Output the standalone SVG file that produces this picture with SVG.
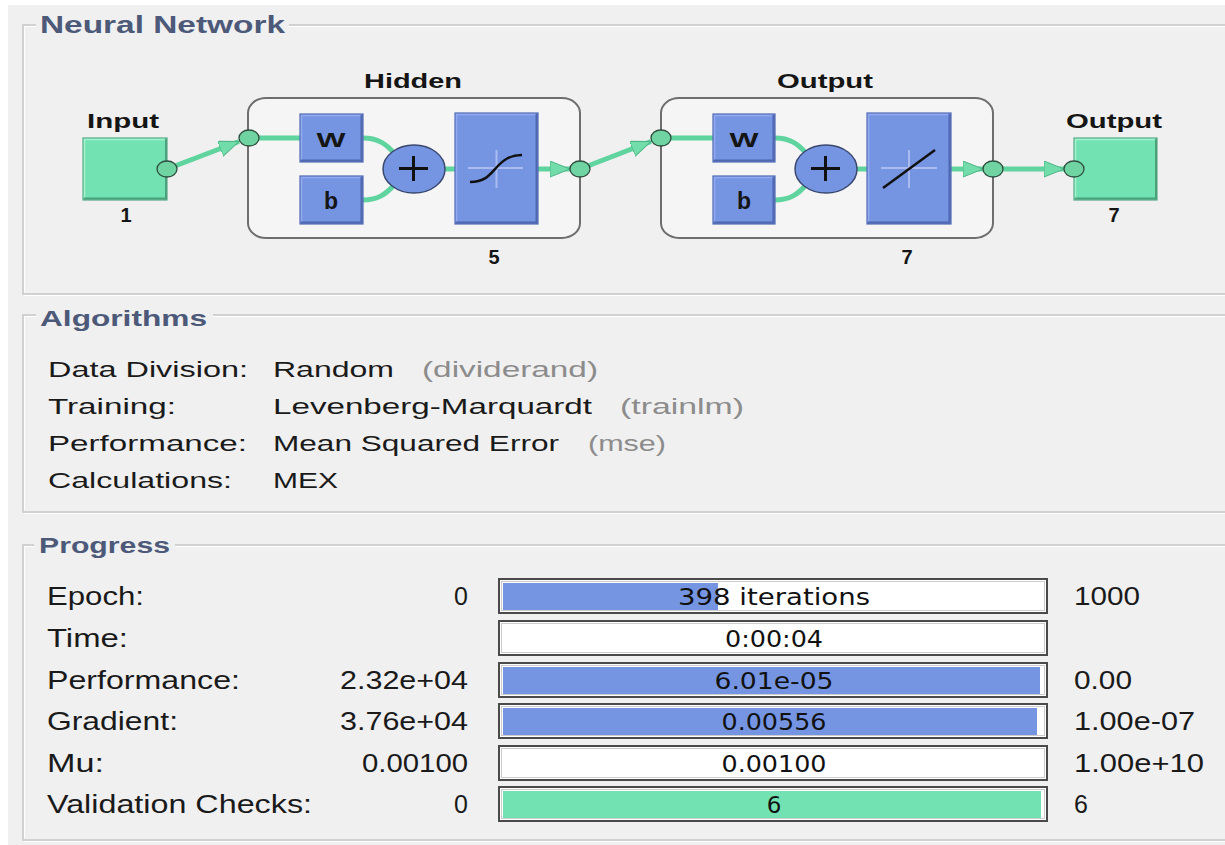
<svg xmlns="http://www.w3.org/2000/svg" width="1225" height="845" viewBox="0 0 1225 845">
<defs>
<style>
.gb{fill:none;stroke:#c6c6c6;stroke-width:1.5}
.gw{fill:none;stroke:#ffffff;stroke-width:1}
.ttl{font-family:"Liberation Sans",Arial,sans-serif;font-weight:bold;font-size:23px;fill:#4d5978}
.nl{font-family:"Liberation Sans",Arial,sans-serif;font-weight:bold;font-size:20px;fill:#151515}
.al{font-family:"Liberation Sans",Arial,sans-serif;font-size:22px;fill:#1a1a1a}
.ag{font-family:"Liberation Sans",Arial,sans-serif;font-size:22px;fill:#8c8c8c}
.pl{font-family:"Liberation Sans",Arial,sans-serif;font-size:25px;fill:#1a1a1a}
.bt{font-family:"DejaVu Sans",sans-serif;font-size:23px;fill:#111}
.blue{fill:#7595e3;stroke:#5068b4;stroke-width:1.2}
.hl{fill:none;stroke:#93abee;stroke-width:1.5}
.sh{fill:none;stroke:#4f67ae;stroke-width:2}
.grn{fill:#72e2b2;stroke:#55a985;stroke-width:1.2}
.ghl{fill:none;stroke:#a2f2d0;stroke-width:1.5}
.gsh{fill:none;stroke:#4aa17c;stroke-width:2}
.layer{fill:#f5f5f5;stroke:#6e6e6e;stroke-width:2}
.con{fill:none;stroke:#5fd49f;stroke-width:5}
.dot{fill:#6fd3a2;stroke:#2f4e3f;stroke-width:1.3}
.sum{fill:#7595e3;stroke:#3a4870;stroke-width:1.5}
.cross{stroke:#a9bbef;stroke-width:2}
.fn{fill:none;stroke:#111;stroke-width:2.5}
.bar{fill:#ffffff;stroke:#4a4a4a;stroke-width:2}
.bari{fill:none;stroke:#cccccc;stroke-width:1}
.bfill{fill:#7595e3}
.gfill{fill:#72e2b2}
.wl{font-size:21px}
.bl{font-size:23px}
</style>
<marker id="ah" markerUnits="userSpaceOnUse" markerWidth="24" markerHeight="20" refX="20" refY="8" orient="auto">
<path d="M0,0 L20,8 L0,16 Z" fill="#72dcab" stroke="#4db685" stroke-width="1"/>
</marker>
</defs>

<rect x="0" y="0" width="1225" height="845" fill="#ffffff"/>
<rect x="8" y="5" width="1217" height="840" fill="#f0f0f0"/>

<!-- Group boxes -->
<g id="box-neural-network">
<path class="gb" d="M36,25 H23 V294 H1225 M289,25 H1225"/>
<path class="gw" d="M36,26.5 H24.5 V292.5 M289,26.5 H1225 M24,295.5 H1225"/>
<text class="ttl" x="40" y="33" textLength="245" lengthAdjust="spacingAndGlyphs">Neural Network</text>
</g>
<g id="box-algorithms">
<path class="gb" d="M36,315 H23 V512 H1225 M213,315 H1225"/>
<path class="gw" d="M36,316.5 H24.5 V510.5 M213,316.5 H1225 M24,513.5 H1225"/>
<text class="ttl" x="40" y="326" textLength="167" lengthAdjust="spacingAndGlyphs" style="font-size:22px">Algorithms</text>
</g>
<g id="box-progress">
<path class="gb" d="M34,545 H23 V840 H1225 M175,545 H1225"/>
<path class="gw" d="M34,546.5 H24.5 V838.5 M175,546.5 H1225 M24,841.5 H1225"/>
<text class="ttl" x="39" y="553" textLength="131" lengthAdjust="spacingAndGlyphs" style="font-size:22px">Progress</text>
</g>

<!-- Layer frames -->
<g id="layer-hidden">
<rect class="layer" x="248" y="98" width="332" height="140" rx="18" ry="15"/>
<text class="nl" x="413" y="88" text-anchor="middle" textLength="98" lengthAdjust="spacingAndGlyphs">Hidden</text>
<text class="nl" x="494" y="264" text-anchor="middle">5</text>
</g>
<g id="layer-output">
<rect class="layer" x="661" y="98" width="332" height="140" rx="18" ry="15"/>
<text class="nl" x="825" y="88" text-anchor="middle" textLength="96" lengthAdjust="spacingAndGlyphs">Output</text>
<text class="nl" x="907" y="264" text-anchor="middle">7</text>
</g>

<!-- Connectors -->
<g id="connectors">
<line class="con" x1="167" y1="169" x2="239" y2="141.5" marker-end="url(#ah)"/>
<line class="con" x1="249" y1="138" x2="300" y2="138"/>
<path class="con" d="M363,138 C378,138 386,144 394,153"/>
<path class="con" d="M363,200 C378,200 386,194 394,185"/>
<line class="con" x1="445" y1="169" x2="455" y2="169"/>
<line class="con" x1="538" y1="169" x2="570" y2="169" marker-end="url(#ah)"/>
<line class="con" x1="580" y1="169" x2="651" y2="141.5" marker-end="url(#ah)"/>
<line class="con" x1="661" y1="138" x2="713" y2="138"/>
<path class="con" d="M775,138 C790,138 798,144 806,153"/>
<path class="con" d="M775,200 C790,200 798,194 806,185"/>
<line class="con" x1="857" y1="169" x2="867" y2="169"/>
<line class="con" x1="951" y1="169" x2="983" y2="169" marker-end="url(#ah)"/>
<line class="con" x1="993" y1="169" x2="1064" y2="169" marker-end="url(#ah)"/>
</g>

<!-- Input node -->
<g id="node-input">
<rect class="grn" x="83" y="138" width="84" height="62"/>
<path class="ghl" d="M84.5,198 V139.5 H165"/>
<path class="gsh" d="M84,198.5 H166 V139"/>
<text class="nl" x="123" y="128" text-anchor="middle" textLength="72" lengthAdjust="spacingAndGlyphs">Input</text>
<text class="nl" x="126" y="222" text-anchor="middle">1</text>
<ellipse class="dot" cx="167" cy="169" rx="10" ry="8"/>
</g>

<!-- Hidden layer nodes -->
<g id="hidden-in">
<ellipse class="dot" cx="249" cy="138" rx="10" ry="8"/>
</g>
<g id="hidden-w">
<rect class="blue" x="300" y="114" width="63" height="48"/>
<path class="hl" d="M301.5,160 V115.5 H361"/>
<path class="sh" d="M301,160.5 H361.5 V115"/>
<text class="nl wl" x="331" y="147" text-anchor="middle" textLength="29" lengthAdjust="spacingAndGlyphs">W</text>
</g>
<g id="hidden-b">
<rect class="blue" x="300" y="176" width="63" height="48"/>
<path class="hl" d="M301.5,222 V177.5 H361"/>
<path class="sh" d="M301,222.5 H361.5 V177"/>
<text class="nl bl" x="331" y="209" text-anchor="middle">b</text>
</g>
<g id="hidden-sum">
<ellipse class="sum" cx="414" cy="169" rx="31" ry="24"/>
<line x1="399" y1="168.5" x2="428" y2="168.5" stroke="#111" stroke-width="3"/>
<line x1="413.5" y1="156" x2="413.5" y2="181" stroke="#111" stroke-width="3"/>
</g>
<g id="hidden-tansig">
<rect class="blue" x="455" y="113" width="83" height="111"/>
<path class="hl" d="M456.5,222 V114.5 H536"/>
<path class="sh" d="M456,222.5 H536.5 V114"/>
<line class="cross" x1="496.5" y1="150" x2="496.5" y2="188"/>
<line class="cross" x1="468" y1="168" x2="523" y2="168"/>
<path class="fn" d="M470,182 C484,182 489,176 496,168 S510,155 522,155"/>
</g>
<g id="hidden-out">
<ellipse class="dot" cx="580" cy="169" rx="10" ry="8"/>
</g>

<!-- Output layer nodes -->
<g id="output-in">
<ellipse class="dot" cx="661" cy="138" rx="10" ry="8"/>
</g>
<g id="output-w">
<rect class="blue" x="713" y="114" width="62" height="48"/>
<path class="hl" d="M714.5,160 V115.5 H773"/>
<path class="sh" d="M714,160.5 H773.5 V115"/>
<text class="nl wl" x="744" y="147" text-anchor="middle" textLength="29" lengthAdjust="spacingAndGlyphs">W</text>
</g>
<g id="output-b">
<rect class="blue" x="713" y="176" width="62" height="48"/>
<path class="hl" d="M714.5,222 V177.5 H773"/>
<path class="sh" d="M714,222.5 H773.5 V177"/>
<text class="nl bl" x="744" y="209" text-anchor="middle">b</text>
</g>
<g id="output-sum">
<ellipse class="sum" cx="826" cy="169" rx="31" ry="24"/>
<line x1="811" y1="168.5" x2="840" y2="168.5" stroke="#111" stroke-width="3"/>
<line x1="825.5" y1="156" x2="825.5" y2="181" stroke="#111" stroke-width="3"/>
</g>
<g id="output-purelin">
<rect class="blue" x="867" y="113" width="84" height="111"/>
<path class="hl" d="M868.5,222 V114.5 H949"/>
<path class="sh" d="M868,222.5 H949.5 V114"/>
<line class="cross" x1="909" y1="150" x2="909" y2="188"/>
<line class="cross" x1="881" y1="168" x2="937" y2="168"/>
<line class="fn" x1="883" y1="188" x2="935" y2="150"/>
</g>
<g id="output-out">
<ellipse class="dot" cx="993" cy="169" rx="10" ry="8"/>
</g>

<!-- Output node -->
<g id="node-output">
<rect class="grn" x="1074" y="138" width="83" height="62"/>
<path class="ghl" d="M1075.5,198 V139.5 H1155"/>
<path class="gsh" d="M1075,198.5 H1156 V139"/>
<text class="nl" x="1114" y="128" text-anchor="middle" textLength="96" lengthAdjust="spacingAndGlyphs">Output</text>
<text class="nl" x="1114" y="222" text-anchor="middle">7</text>
<ellipse class="dot" cx="1074" cy="169" rx="10" ry="8"/>
</g>

<!-- Algorithms -->
<g id="algorithms-text">
<text class="al" x="48" y="377" textLength="200" lengthAdjust="spacingAndGlyphs">Data Division:</text>
<text class="al" x="273" y="377" textLength="121" lengthAdjust="spacingAndGlyphs">Random</text>
<text class="ag" x="422" y="377" textLength="176" lengthAdjust="spacingAndGlyphs">(dividerand)</text>
<text class="al" x="48" y="414" textLength="128" lengthAdjust="spacingAndGlyphs">Training:</text>
<text class="al" x="273" y="414" textLength="319" lengthAdjust="spacingAndGlyphs">Levenberg-Marquardt</text>
<text class="ag" x="620" y="414" textLength="124" lengthAdjust="spacingAndGlyphs">(trainlm)</text>
<text class="al" x="48" y="451" textLength="199" lengthAdjust="spacingAndGlyphs">Performance:</text>
<text class="al" x="273" y="451" textLength="286" lengthAdjust="spacingAndGlyphs">Mean Squared Error</text>
<text class="ag" x="588" y="451" textLength="78" lengthAdjust="spacingAndGlyphs">(mse)</text>
<text class="al" x="48" y="488" textLength="184" lengthAdjust="spacingAndGlyphs">Calculations:</text>
<text class="al" x="273" y="488" textLength="65" lengthAdjust="spacingAndGlyphs">MEX</text>
</g>

<!-- Progress -->
<g id="progress-labels">
<text class="pl" x="47" y="605" textLength="97" lengthAdjust="spacingAndGlyphs">Epoch:</text>
<text class="pl" x="47" y="647" textLength="81" lengthAdjust="spacingAndGlyphs">Time:</text>
<text class="pl" x="47" y="689" textLength="193" lengthAdjust="spacingAndGlyphs">Performance:</text>
<text class="pl" x="47" y="730" textLength="131" lengthAdjust="spacingAndGlyphs">Gradient:</text>
<text class="pl" x="47" y="772" textLength="57" lengthAdjust="spacingAndGlyphs">Mu:</text>
<text class="pl" x="47" y="813" textLength="265" lengthAdjust="spacingAndGlyphs">Validation Checks:</text>
</g>
<g id="progress-start">
<text class="pl" x="468" y="605" text-anchor="end">0</text>
<text class="pl" x="468" y="689" text-anchor="end" textLength="128" lengthAdjust="spacingAndGlyphs">2.32e+04</text>
<text class="pl" x="468" y="730" text-anchor="end" textLength="128" lengthAdjust="spacingAndGlyphs">3.76e+04</text>
<text class="pl" x="468" y="772" text-anchor="end" textLength="106" lengthAdjust="spacingAndGlyphs">0.00100</text>
<text class="pl" x="468" y="813" text-anchor="end">0</text>
</g>
<g id="progress-end">
<text class="pl" x="1074" y="605" textLength="66" lengthAdjust="spacingAndGlyphs">1000</text>
<text class="pl" x="1074" y="689" textLength="58" lengthAdjust="spacingAndGlyphs">0.00</text>
<text class="pl" x="1074" y="730" textLength="121" lengthAdjust="spacingAndGlyphs">1.00e-07</text>
<text class="pl" x="1074" y="772" textLength="130" lengthAdjust="spacingAndGlyphs">1.00e+10</text>
<text class="pl" x="1074" y="813">6</text>
</g>

<g id="bar-epoch">
<rect class="bar" x="499" y="579" width="548" height="34"/>
<rect class="bari" x="501.5" y="581.5" width="543" height="29"/>
<rect class="bfill" x="503" y="583" width="215" height="27"/>
<text class="bt" x="774" y="605" text-anchor="middle" textLength="192" lengthAdjust="spacingAndGlyphs">398 iterations</text>
</g>
<g id="bar-time">
<rect class="bar" x="499" y="621" width="548" height="34"/>
<rect class="bari" x="501.5" y="623.5" width="543" height="29"/>
<text class="bt" x="774" y="647" text-anchor="middle" textLength="98" lengthAdjust="spacingAndGlyphs">0:00:04</text>
</g>
<g id="bar-performance">
<rect class="bar" x="499" y="663" width="548" height="34"/>
<rect class="bari" x="501.5" y="665.5" width="543" height="29"/>
<rect class="bfill" x="503" y="667" width="537" height="27"/>
<text class="bt" x="774" y="689" text-anchor="middle" textLength="119" lengthAdjust="spacingAndGlyphs">6.01e-05</text>
</g>
<g id="bar-gradient">
<rect class="bar" x="499" y="704" width="548" height="34"/>
<rect class="bari" x="501.5" y="706.5" width="543" height="29"/>
<rect class="bfill" x="503" y="708" width="534" height="27"/>
<text class="bt" x="774" y="730" text-anchor="middle" textLength="105" lengthAdjust="spacingAndGlyphs">0.00556</text>
</g>
<g id="bar-mu">
<rect class="bar" x="499" y="746" width="548" height="34"/>
<rect class="bari" x="501.5" y="748.5" width="543" height="29"/>
<text class="bt" x="774" y="772" text-anchor="middle" textLength="105" lengthAdjust="spacingAndGlyphs">0.00100</text>
</g>
<g id="bar-validation">
<rect class="bar" x="499" y="787" width="548" height="34"/>
<rect class="bari" x="501.5" y="789.5" width="543" height="29"/>
<rect class="gfill" x="503" y="791" width="538" height="27"/>
<text class="bt" x="774" y="813" text-anchor="middle">6</text>
</g>
</svg>
